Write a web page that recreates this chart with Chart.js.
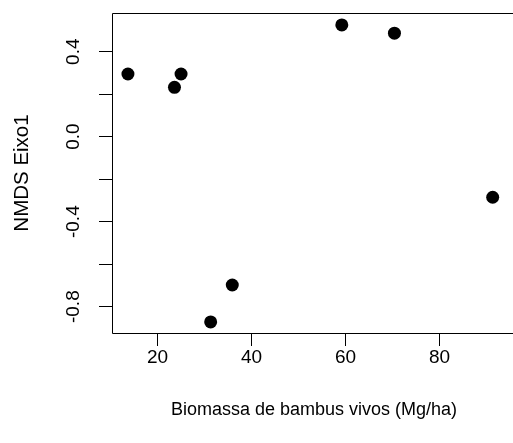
<!DOCTYPE html>
<html>
<head>
<meta charset="utf-8">
<script src="https://cdn.jsdelivr.net/npm/chart.js@4"></script>
<style>
    html, body { margin: 0; padding: 0; background: #fff; }
    #wrap { width: 513px; height: 443px; }
</style>
</head>
<body>
<div id="wrap"><canvas id="nmdsChart" width="513" height="443"></canvas></div>
<script>
// values
const biomassa = [13.7, 23.6, 25.0, 31.3, 35.9, 59.2, 70.4, 91.3];
const eixo1 = [0.295, 0.232, 0.295, -0.872, -0.698, 0.526, 0.487, -0.285];

const xTicks = [20, 40, 60, 80];
const yTicks = [-0.8, -0.6, -0.4, -0.2, 0.0, 0.2, 0.4];
const yLabels = ['-0.8', '', '-0.4', '', '0.0', '', '0.4'];

const xTitle = 'Biomassa de bambus vivos (Mg/ha)';
const yTitle = 'NMDS Eixo1';

const FONT = '"Liberation Sans", Arial, sans-serif';
const TICK_SIZE = 19;

const points = biomassa.map((b, i) => ({ x: b, y: eixo1[i] }));

/*------------------box + y labels + titles, R base style------------------------*/
const rStyle = {
    id: 'rStyle',
    afterDraw(chart) {
        const ctx = chart.ctx;
        const area = chart.chartArea;
        const yScale = chart.scales.y;

        ctx.save();
        ctx.strokeStyle = '#000';
        ctx.lineWidth = 1;
        ctx.beginPath();
        ctx.moveTo(chart.width, area.top + 0.5);
        ctx.lineTo(area.left + 0.5, area.top + 0.5);
        ctx.lineTo(area.left + 0.5, area.bottom + 0.5);
        ctx.lineTo(chart.width, area.bottom + 0.5);
        ctx.stroke();

        ctx.fillStyle = '#000';
        ctx.font = TICK_SIZE + 'px ' + FONT;
        ctx.textAlign = 'center';
        ctx.textBaseline = 'middle';

        // rotated y tick labels
        yTicks.forEach((v, i) => {
            if (!yLabels[i]) return;
            const py = yScale.getPixelForValue(v);
            ctx.save();
            ctx.translate(74, py);
            ctx.rotate(-Math.PI / 2);
            ctx.fillText(yLabels[i], 0, 0);
            ctx.restore();
        });

        // axis titles
        ctx.font = '18px ' + FONT;
        ctx.fillText(xTitle, 314, 410);
        ctx.font = '20.5px ' + FONT;
        ctx.save();
        ctx.translate(22, 173);
        ctx.rotate(-Math.PI / 2);
        ctx.fillText(yTitle, 0, 0);
        ctx.restore();
        ctx.restore();
    }
};

const ctx = document.getElementById('nmdsChart').getContext('2d');
new Chart(ctx, {
    type: 'scatter',
    data: {
        datasets: [{
            data: points,
            backgroundColor: '#000',
            borderWidth: 0,
            pointRadius: 6.5,
            pointHoverRadius: 6.5
        }]
    },
    options: {
        responsive: false,
        animation: false,
        layout: { padding: { top: 13, right: 0, left: 0, bottom: 0 } },
        plugins: {
            legend: { display: false },
            tooltip: { enabled: false }
        },
        scales: {
            x: {
                type: 'linear',
                min: 10.31,
                max: 94.24,
                afterBuildTicks: scale => { scale.ticks = xTicks.map(v => ({ value: v })); },
                afterFit: scale => { scale.height = 110; },
                border: { display: false },
                grid: {
                    drawOnChartArea: false,
                    drawTicks: true,
                    tickLength: 13,
                    color: '#000',
                    lineWidth: 1
                },
                ticks: {
                    color: '#000',
                    padding: 0,
                    maxRotation: 0,
                    font: { family: FONT, size: TICK_SIZE }
                }
            },
            y: {
                type: 'linear',
                min: -0.924,
                max: 0.582,
                afterBuildTicks: scale => { scale.ticks = yTicks.map(v => ({ value: v })); },
                afterFit: scale => { scale.width = 112; },
                border: { display: false },
                grid: {
                    drawOnChartArea: false,
                    drawTicks: true,
                    tickLength: 13,
                    color: '#000',
                    lineWidth: 1
                },
                ticks: { display: false }
            }
        }
    },
    plugins: [rStyle]
});
</script>
</body>
</html>
